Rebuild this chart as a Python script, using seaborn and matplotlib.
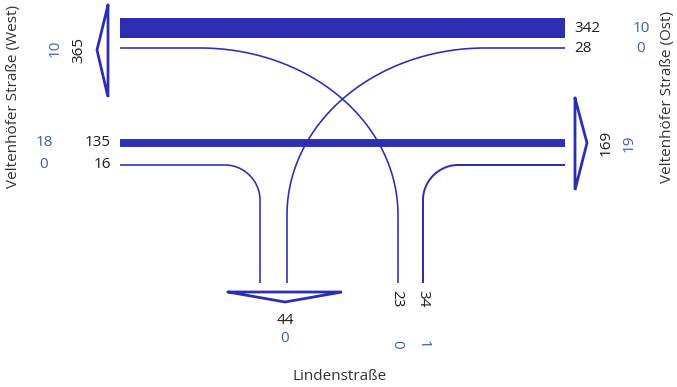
import numpy as np
import pandas as pd
import matplotlib
matplotlib.use("Agg")
import matplotlib.pyplot as plt
import seaborn as sns

# ---- data -------------------------------------------------------------
flow_names = ["W_straight", "W_right", "E_straight", "E_left", "S_left", "S_right"]
flow_volumes = [135, 16, 342, 28, 23, 34]
flow_heavy = [18, 0, 10, 0, 0, 1]
exit_names = ["West", "East", "South"]
exit_volumes = [365, 169, 44]
exit_heavy = [10, 19, 0]
road_labels = ["Veltenhöfer Straße (West)", "Veltenhöfer Straße (Ost)", "Lindenstraße"]

# ---- style ------------------------------------------------------------
sns.set_theme(style="white")
plt.rcParams["font.family"] = ["Open Sans", "DejaVu Sans"]
LINE = "#2e2eb4"
BLUE = "#3f5fb0"
BLACK = "#1e1e1e"
GREY = "#333333"
PX_PER_VEH = 20 / 342          # stroke width in pixels per vehicle
DPI = 100


def lw(vol):
    px = max(vol * PX_PER_VEH, 1.6)
    return px * 72 / DPI


def bez(p0, p1, p2, p3, n=80):
    t = np.linspace(0, 1, n)[:, None]
    p0, p1, p2, p3 = map(np.asarray, (p0, p1, p2, p3))
    return (1 - t) ** 3 * p0 + 3 * t * (1 - t) ** 2 * p1 + 3 * t ** 2 * (1 - t) * p2 + t ** 3 * p3


def arc(cx, cy, rx, ry, a0, a1, n=120):
    a = np.radians(np.linspace(a0, a1, n))
    return np.column_stack([cx + rx * np.cos(a), cy - ry * np.sin(a)])


def path(*pieces):
    return np.vstack([np.atleast_2d(np.asarray(p, float)) for p in pieces])


# ---- layout (pixel geometry) -------------------------------------------
XL, XR = 120, 565
Y_E1, Y_E2 = 28, 48
Y_W1, Y_W2 = 143, 165
Y_END = 283
paths = {
    "W_straight": path([XL, Y_W1], [XR, Y_W1]),
    "W_right": path([XL, Y_W2], bez((225, Y_W2), (244, Y_W2), (260, 181), (260, 200)), [260, Y_END]),
    "E_straight": path([XL, Y_E1], [XR, Y_E1]),
    "E_left": path([XR, Y_E2], arc(485, 215, 198, 167, 90, 180), [287, Y_END]),
    "S_left": path([398, Y_END], arc(200, 215, 198, 167, 0, 90), [XL, Y_E2]),
    "S_right": path([423, Y_END], bez((423, 200), (423, 181), (439, Y_W2), (458, Y_W2)), [XR, Y_W2]),
}

fig = plt.figure(figsize=(6.77, 3.87), dpi=DPI)
ax = fig.add_axes([0, 0, 1, 1])
ax.set_xlim(0, 677)
ax.set_ylim(387, 0)
ax.axis("off")

for name, vol in zip(flow_names, flow_volumes):
    pts = paths[name]
    df = pd.DataFrame({"x": pts[:, 0], "y": pts[:, 1]})
    sns.lineplot(data=df, x="x", y="y", sort=False, estimator=None, color=LINE,
                 linewidth=lw(vol), solid_capstyle="butt", solid_joinstyle="round",
                 legend=False, ax=ax)

# exit arrows (outlined triangles)
arrows = {
    "West": [(108, 5), (108, 97), (97, 50), (108, 5)],
    "East": [(575, 98), (575, 190), (587, 143), (575, 98)],
    "South": [(228, 292), (342, 292), (285, 302), (228, 292)],
}
for name in exit_names:
    a = np.array(arrows[name], float)
    ax.plot(a[:, 0], a[:, 1], color=LINE, lw=2.0, solid_joinstyle="miter")

FS = 11
v = dict(zip(flow_names, flow_volumes))
h = dict(zip(flow_names, flow_heavy))
ev = dict(zip(exit_names, exit_volumes))
eh = dict(zip(exit_names, exit_heavy))

# West approach
ax.text(111, Y_W1, str(v["W_straight"]), color=BLACK, fontsize=FS, ha="right", va="center")
ax.text(111, Y_W2, str(v["W_right"]), color=BLACK, fontsize=FS, ha="right", va="center")
ax.text(44, Y_W1, str(h["W_straight"]), color=BLUE, fontsize=FS, ha="center", va="center")
ax.text(44, Y_W2, str(h["W_right"]), color=BLUE, fontsize=FS, ha="center", va="center")
ax.text(79, 50, str(ev["West"]), color=BLACK, fontsize=FS, ha="center", va="center", rotation=90)
ax.text(55, 48, str(eh["West"]), color=BLUE, fontsize=FS, ha="center", va="center", rotation=90)

# East approach
ax.text(574, Y_E1, str(v["E_straight"]), color=BLACK, fontsize=FS, ha="left", va="center")
ax.text(574, Y_E2, str(v["E_left"]), color=BLACK, fontsize=FS, ha="left", va="center")
ax.text(641, Y_E1, str(h["E_straight"]), color=BLUE, fontsize=FS, ha="center", va="center")
ax.text(641, Y_E2, str(h["E_left"]), color=BLUE, fontsize=FS, ha="center", va="center")
ax.text(606, 143, str(ev["East"]), color=BLACK, fontsize=FS, ha="center", va="center", rotation=90)
ax.text(629, 143, str(eh["East"]), color=BLUE, fontsize=FS, ha="center", va="center", rotation=90)

# South approach
ax.text(285, 320, str(ev["South"]), color=BLACK, fontsize=FS, ha="center", va="center")
ax.text(285, 338, str(eh["South"]), color=BLUE, fontsize=FS, ha="center", va="center")
ax.text(397, 299, str(v["S_left"]), color=BLACK, fontsize=FS, ha="center", va="center", rotation=-90)
ax.text(423, 299, str(v["S_right"]), color=BLACK, fontsize=FS, ha="center", va="center", rotation=-90)
ax.text(397, 344, str(h["S_left"]), color=BLUE, fontsize=FS, ha="center", va="center", rotation=-90)
ax.text(423, 344, str(h["S_right"]), color=BLUE, fontsize=FS, ha="center", va="center", rotation=-90)

# road names
ax.text(14, 97, road_labels[0], color=GREY, fontsize=FS, ha="center", va="center", rotation=90)
ax.text(668, 97, road_labels[1], color=GREY, fontsize=FS, ha="center", va="center", rotation=90)
ax.text(340, 376, road_labels[2], color=GREY, fontsize=FS, ha="center", va="center")

fig.savefig("out.png", dpi=DPI)
